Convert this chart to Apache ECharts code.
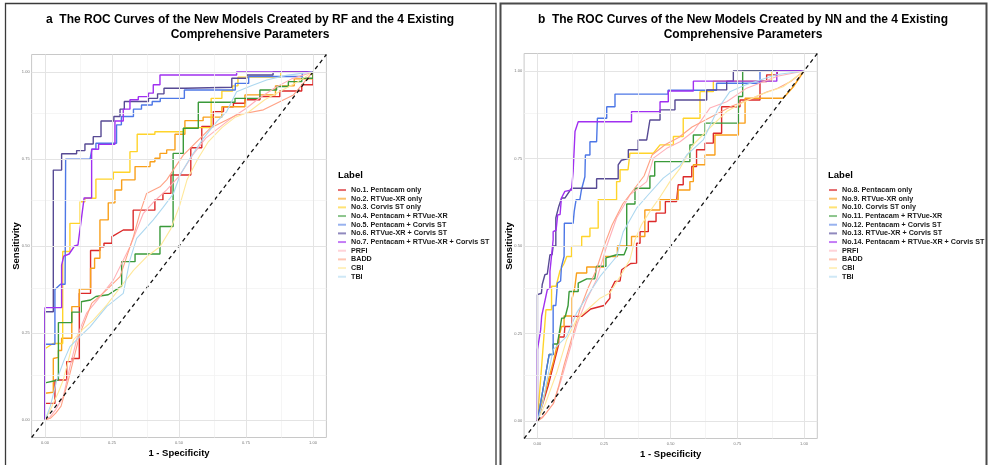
<!DOCTYPE html>
<html><head><meta charset="utf-8">
<script src="https://cdn.jsdelivr.net/npm/echarts@6/dist/echarts.min.js"></script>
<style>html,body{margin:0;padding:0;background:#fff}#c{width:990px;height:465px}</style>
</head><body><div id="c"></div>
<script>
// ---------- text ----------
const titleA = 'a  The ROC Curves of the New Models Created by RF and the 4 Existing\nComprehensive Parameters';
const titleB = 'b  The ROC Curves of the New Models Created by NN and the 4 Existing\nComprehensive Parameters';
const legendA = ['No.1. Pentacam only','No.2. RTVue-XR only','No.3. Corvis ST only','No.4. Pentacam + RTVue-XR','No.5. Pentacam + Corvis ST','No.6. RTVue-XR + Corvis ST','No.7. Pentacam + RTVue-XR + Corvis ST','PRFI','BADD','CBI','TBI'];
const legendB = ['No.8. Pentacam only','No.9. RTVue-XR only','No.10. Corvis ST only','No.11. Pentacam + RTVue-XR','No.12. Pentacam + Corvis ST','No.13. RTVue-XR + Corvis ST','No.14. Pentacam + RTVue-XR + Corvis ST','PRFI','BADD','CBI','TBI'];
const tickValues = [0, 0.25, 0.5, 0.75, 1];
const minorValues = [0.125, 0.375, 0.625, 0.875];
const diagonal = [[-0.05, -0.05], [1.05, 1.05]];

// ---------- panel a : [1 - specificity, sensitivity] ----------
const a_no1 = [[0,0],[0,0.048],[0.037,0.048],[0.037,0.115],[0.081,0.115],[0.081,0.168],[0.1,0.168],[0.1,0.177],[0.128,0.177],[0.128,0.364],[0.17,0.364],[0.17,0.487],[0.205,0.487],[0.205,0.498],[0.22,0.498],[0.22,0.508],[0.25,0.508],[0.25,0.527],[0.292,0.546],[0.329,0.546],[0.329,0.603],[0.41,0.603],[0.41,0.632],[0.44,0.632],[0.44,0.651],[0.47,0.651],[0.47,0.704],[0.544,0.704],[0.544,0.782],[0.585,0.782],[0.585,0.843],[0.628,0.843],[0.628,0.886],[0.666,0.886],[0.666,0.9],[0.703,0.9],[0.703,0.91],[0.746,0.91],[0.746,0.92],[0.802,0.92],[0.802,0.929],[0.876,0.929],[0.876,0.945],[0.958,0.945],[0.958,0.963],[1,0.963],[1,1]];
const a_no2 = [[0,0],[0,0.077],[0.031,0.08],[0.031,0.177],[0.05,0.18],[0.05,0.2],[0.062,0.2],[0.062,0.235],[0.1,0.235],[0.1,0.326],[0.128,0.326],[0.128,0.376],[0.17,0.376],[0.17,0.436],[0.185,0.436],[0.185,0.465],[0.205,0.465],[0.205,0.575],[0.236,0.575],[0.236,0.624],[0.261,0.624],[0.261,0.661],[0.286,0.661],[0.286,0.69],[0.336,0.69],[0.336,0.728],[0.392,0.728],[0.392,0.742],[0.41,0.742],[0.41,0.752],[0.429,0.752],[0.429,0.766],[0.454,0.766],[0.454,0.776],[0.485,0.776],[0.485,0.821],[0.522,0.821],[0.522,0.86],[0.59,0.86],[0.59,0.87],[0.66,0.87],[0.66,0.9],[0.746,0.9],[0.746,0.934],[0.86,0.934],[0.86,0.96],[0.93,0.96],[0.93,0.98],[1,0.98],[1,1]];
const a_no3 = [[0,0],[0,0.205],[0.03,0.22],[0.066,0.22],[0.066,0.484],[0.093,0.484],[0.093,0.565],[0.131,0.565],[0.131,0.627],[0.149,0.627],[0.149,0.637],[0.19,0.637],[0.19,0.692],[0.255,0.692],[0.255,0.712],[0.317,0.712],[0.317,0.771],[0.344,0.771],[0.344,0.821],[0.41,0.821],[0.41,0.828],[0.52,0.828],[0.52,0.84],[0.62,0.84],[0.62,0.924],[0.66,0.924],[0.66,0.945],[0.7,0.945],[0.7,0.96],[0.72,0.96],[0.72,0.985],[0.88,0.985],[0.88,1],[1,1]];
const a_no4 = [[0,0],[0,0.107],[0.05,0.115],[0.05,0.28],[0.1,0.28],[0.1,0.31],[0.135,0.31],[0.135,0.34],[0.17,0.345],[0.19,0.355],[0.236,0.36],[0.286,0.385],[0.286,0.455],[0.336,0.455],[0.336,0.477],[0.429,0.477],[0.429,0.556],[0.478,0.556],[0.478,0.766],[0.516,0.766],[0.516,0.838],[0.572,0.838],[0.572,0.913],[0.709,0.913],[0.709,0.924],[0.802,0.924],[0.802,0.948],[0.864,0.948],[0.864,0.958],[0.908,0.958],[0.908,0.972],[0.958,0.972],[0.958,0.982],[1,0.982],[1,1]];
const a_no5 = [[0,0],[0,0.218],[0.037,0.218],[0.037,0.375],[0.058,0.39],[0.075,0.39],[0.077,0.749],[0.168,0.749],[0.175,0.778],[0.19,0.778],[0.19,0.795],[0.267,0.795],[0.267,0.848],[0.285,0.848],[0.285,0.872],[0.33,0.872],[0.33,0.893],[0.36,0.893],[0.36,0.905],[0.4,0.905],[0.4,0.915],[0.43,0.915],[0.43,0.924],[0.52,0.924],[0.52,0.948],[0.71,0.948],[0.71,0.967],[0.76,0.967],[0.76,0.987],[0.96,0.987],[0.96,1],[1,1]];
const a_no6 = [[0,0],[0,0.311],[0.031,0.311],[0.031,0.718],[0.062,0.718],[0.062,0.765],[0.118,0.765],[0.118,0.774],[0.149,0.774],[0.149,0.793],[0.18,0.793],[0.18,0.814],[0.209,0.814],[0.209,0.859],[0.257,0.859],[0.257,0.872],[0.28,0.872],[0.28,0.893],[0.296,0.893],[0.296,0.915],[0.386,0.915],[0.386,0.924],[0.42,0.924],[0.42,0.937],[0.444,0.937],[0.444,0.953],[0.522,0.953],[0.522,0.956],[0.697,0.956],[0.697,0.982],[0.753,0.982],[0.753,0.991],[0.851,0.991],[0.851,1],[1,1]];
const a_no7 = [[0,0],[0,0.323],[0.062,0.323],[0.062,0.445],[0.07,0.471],[0.09,0.477],[0.11,0.5],[0.123,0.503],[0.146,0.638],[0.174,0.638],[0.174,0.778],[0.2,0.778],[0.2,0.792],[0.261,0.792],[0.261,0.859],[0.292,0.859],[0.292,0.893],[0.317,0.893],[0.317,0.92],[0.348,0.92],[0.348,0.929],[0.386,0.929],[0.386,0.939],[0.404,0.939],[0.404,0.963],[0.429,0.963],[0.429,0.991],[0.715,0.991],[0.715,1],[1,1]];
const a_prfi = [[0,0],[0.02,0.01],[0.04,0.03],[0.068,0.067],[0.093,0.153],[0.124,0.249],[0.155,0.307],[0.205,0.354],[0.255,0.402],[0.317,0.498],[0.367,0.594],[0.41,0.63],[0.454,0.661],[0.5,0.7],[0.55,0.76],[0.6,0.81],[0.65,0.84],[0.7,0.87],[0.75,0.895],[0.8,0.925],[0.86,0.955],[0.92,0.98],[1,1]];
const a_badd = [[0,0],[0.02,0.005],[0.04,0.02],[0.06,0.04],[0.087,0.115],[0.131,0.249],[0.174,0.335],[0.23,0.374],[0.28,0.412],[0.33,0.527],[0.354,0.594],[0.379,0.651],[0.429,0.67],[0.454,0.69],[0.516,0.761],[0.616,0.838],[0.715,0.876],[0.815,0.891],[0.927,0.934],[1,1]];
const a_cbi = [[0,0],[0.02,0.03],[0.05,0.08],[0.068,0.115],[0.09,0.18],[0.106,0.23],[0.14,0.26],[0.18,0.287],[0.23,0.33],[0.28,0.38],[0.33,0.43],[0.379,0.469],[0.429,0.498],[0.47,0.55],[0.504,0.62],[0.53,0.69],[0.57,0.75],[0.61,0.8],[0.66,0.84],[0.71,0.87],[0.76,0.885],[0.82,0.92],[0.88,0.945],[0.94,0.97],[1,1]];
const a_tbi = [[0,0],[0.02,0.04],[0.044,0.115],[0.07,0.17],[0.093,0.211],[0.13,0.24],[0.168,0.268],[0.23,0.326],[0.292,0.364],[0.317,0.46],[0.342,0.522],[0.404,0.575],[0.44,0.61],[0.479,0.65],[0.504,0.704],[0.541,0.752],[0.591,0.809],[0.641,0.857],[0.678,0.886],[0.715,0.943],[0.77,0.96],[0.827,0.977],[0.9,0.99],[1,1]];

// ---------- panel b ----------
const b_no8 = [[0,0],[0.04,0.1],[0.08,0.22],[0.08,0.24],[0.1,0.24],[0.103,0.27],[0.13,0.27],[0.13,0.299],[0.166,0.299],[0.2,0.32],[0.25,0.33],[0.272,0.351],[0.272,0.37],[0.291,0.399],[0.31,0.4],[0.316,0.432],[0.35,0.45],[0.372,0.451],[0.372,0.508],[0.385,0.508],[0.385,0.541],[0.416,0.541],[0.416,0.57],[0.445,0.57],[0.445,0.594],[0.48,0.594],[0.48,0.627],[0.522,0.627],[0.528,0.675],[0.547,0.675],[0.547,0.698],[0.579,0.698],[0.579,0.727],[0.597,0.727],[0.597,0.775],[0.629,0.775],[0.629,0.794],[0.66,0.794],[0.66,0.822],[0.691,0.822],[0.691,0.898],[0.76,0.898],[0.76,0.917],[0.835,0.917],[0.835,0.97],[0.86,0.97],[0.86,0.989],[0.9,0.989],[0.9,1],[1,1]];
const b_no9 = [[0,0],[0.06,0.17],[0.09,0.27],[0.1,0.27],[0.1,0.3],[0.13,0.3],[0.13,0.35],[0.14,0.38],[0.147,0.423],[0.185,0.423],[0.185,0.44],[0.25,0.44],[0.25,0.47],[0.3,0.47],[0.3,0.5],[0.353,0.5],[0.353,0.527],[0.403,0.527],[0.403,0.603],[0.46,0.603],[0.46,0.632],[0.528,0.632],[0.528,0.66],[0.572,0.66],[0.572,0.684],[0.585,0.684],[0.585,0.732],[0.629,0.732],[0.629,0.76],[0.666,0.76],[0.666,0.817],[0.754,0.817],[0.754,0.851],[0.779,0.851],[0.779,0.922],[0.922,0.922],[0.96,0.955],[1,1]];
const b_no10 = [[0,0],[0.032,0.318],[0.053,0.318],[0.053,0.385],[0.07,0.385],[0.085,0.43],[0.1,0.45],[0.11,0.47],[0.128,0.47],[0.128,0.499],[0.166,0.499],[0.166,0.527],[0.197,0.527],[0.197,0.551],[0.228,0.551],[0.228,0.632],[0.297,0.632],[0.297,0.684],[0.31,0.684],[0.31,0.718],[0.34,0.718],[0.347,0.765],[0.435,0.765],[0.46,0.789],[0.51,0.789],[0.51,0.813],[0.547,0.813],[0.547,0.865],[0.61,0.865],[0.61,0.941],[0.66,0.941],[0.66,0.971],[0.88,0.971],[0.88,1],[1,1]];
const b_no11 = [[0,0],[0.044,0.19],[0.059,0.19],[0.059,0.22],[0.075,0.22],[0.091,0.294],[0.1,0.294],[0.105,0.3],[0.115,0.33],[0.119,0.37],[0.153,0.37],[0.153,0.394],[0.185,0.406],[0.215,0.406],[0.222,0.442],[0.257,0.442],[0.257,0.466],[0.297,0.475],[0.325,0.475],[0.335,0.494],[0.335,0.62],[0.366,0.62],[0.366,0.665],[0.422,0.665],[0.422,0.7],[0.44,0.7],[0.44,0.741],[0.572,0.741],[0.572,0.789],[0.585,0.789],[0.585,0.817],[0.629,0.817],[0.629,0.851],[0.754,0.851],[0.754,0.927],[0.77,0.927],[0.77,1],[1,1]];
const b_no12 = [[0,0],[0.044,0.19],[0.059,0.19],[0.059,0.33],[0.069,0.33],[0.075,0.394],[0.087,0.4],[0.09,0.44],[0.1,0.47],[0.101,0.565],[0.134,0.565],[0.138,0.599],[0.145,0.632],[0.159,0.632],[0.165,0.66],[0.178,0.698],[0.18,0.76],[0.197,0.76],[0.197,0.798],[0.222,0.798],[0.225,0.865],[0.26,0.865],[0.26,0.898],[0.291,0.898],[0.291,0.934],[0.49,0.934],[0.49,0.945],[0.672,0.945],[0.672,0.965],[0.835,0.965],[0.835,1],[1,1]];
const b_no13 = [[0,0],[0,0.361],[0.015,0.365],[0.018,0.39],[0.024,0.39],[0.028,0.418],[0.037,0.42],[0.047,0.475],[0.055,0.475],[0.059,0.5],[0.069,0.5],[0.069,0.58],[0.075,0.585],[0.08,0.613],[0.091,0.637],[0.103,0.637],[0.128,0.665],[0.222,0.665],[0.222,0.692],[0.303,0.692],[0.303,0.732],[0.315,0.745],[0.341,0.75],[0.341,0.775],[0.378,0.775],[0.378,0.803],[0.41,0.803],[0.422,0.86],[0.46,0.86],[0.46,0.889],[0.516,0.889],[0.516,0.917],[0.635,0.917],[0.635,0.946],[0.71,0.946],[0.71,0.971],[0.735,0.971],[0.735,1],[1,1]];
const b_no14 = [[0,0],[0,0.204],[0.012,0.26],[0.016,0.261],[0.016,0.3],[0.025,0.332],[0.037,0.375],[0.047,0.38],[0.047,0.427],[0.059,0.518],[0.059,0.541],[0.07,0.545],[0.076,0.589],[0.085,0.59],[0.09,0.637],[0.103,0.656],[0.128,0.66],[0.134,0.713],[0.141,0.827],[0.153,0.855],[0.353,0.855],[0.353,0.884],[0.46,0.884],[0.46,0.912],[0.491,0.912],[0.491,0.943],[0.585,0.943],[0.585,0.971],[0.898,0.971],[0.898,1],[1,1]];
const b_prfi = [[0,0],[0.03,0.02],[0.06,0.05],[0.09,0.12],[0.12,0.2],[0.15,0.28],[0.185,0.347],[0.222,0.404],[0.26,0.5],[0.297,0.58],[0.347,0.646],[0.41,0.684],[0.435,0.751],[0.485,0.779],[0.535,0.798],[0.585,0.827],[0.647,0.894],[0.71,0.912],[0.785,0.951],[0.85,0.97],[0.9,0.985],[1,1]];
const b_badd = [[0,0],[0.02,0.01],[0.04,0.03],[0.06,0.05],[0.08,0.1],[0.1,0.16],[0.13,0.24],[0.16,0.32],[0.19,0.38],[0.22,0.43],[0.25,0.5],[0.28,0.56],[0.32,0.62],[0.36,0.66],[0.4,0.7],[0.43,0.76],[0.48,0.79],[0.53,0.81],[0.58,0.84],[0.63,0.86],[0.68,0.88],[0.73,0.9],[0.8,0.92],[0.86,0.94],[0.9,0.95],[0.95,0.97],[1,1]];
const b_cbi = [[0,0],[0.03,0.05],[0.072,0.137],[0.11,0.233],[0.147,0.29],[0.19,0.32],[0.235,0.351],[0.272,0.366],[0.31,0.413],[0.347,0.461],[0.366,0.518],[0.39,0.56],[0.422,0.599],[0.46,0.64],[0.497,0.684],[0.535,0.722],[0.585,0.79],[0.65,0.84],[0.71,0.884],[0.77,0.91],[0.835,0.932],[0.922,0.955],[1,1]];
const b_tbi = [[0,0],[0.02,0.05],[0.034,0.109],[0.059,0.204],[0.11,0.242],[0.147,0.309],[0.19,0.36],[0.235,0.413],[0.297,0.47],[0.322,0.541],[0.372,0.608],[0.42,0.65],[0.472,0.694],[0.535,0.73],[0.56,0.76],[0.622,0.803],[0.679,0.894],[0.722,0.941],[0.78,0.96],[0.835,0.974],[0.9,0.99],[1,1]];

// ---------- style ----------
const lineColors = ['#DC2A2A','#F9A01B','#FFD42A','#3A9A3A','#4D77E6','#574A94','#A030F0','#FFB0B8','#FFA285','#FFE89A','#ADD8F0'];
const keyColors = ['#E66E70','#FBC36E','#FFE274','#8CC58C','#98B2EF','#9089BE','#C47CF6','#FFD3D8','#FFC6B3','#FFF1BE','#CFE8F6'];
const lineWidths = [1.4,1.4,1.4,1.4,1.4,1.4,1.4,1.1,1.1,1.1,1.1];
const FONT = 'Liberation Sans, Arial, sans-serif';

const curvesA = [a_no1,a_no2,a_no3,a_no4,a_no5,a_no6,a_no7,a_prfi,a_badd,a_cbi,a_tbi];
const curvesB = [b_no8,b_no9,b_no10,b_no11,b_no12,b_no13,b_no14,b_prfi,b_badd,b_cbi,b_tbi];

function gridSeries(p) {
  const minor = {color: '#F2F2F2', width: 0.8, type: 'solid'};
  const major = {color: '#E4E4E4', width: 1, type: 'solid'};
  const ml = [];
  minorValues.forEach(v => { ml.push({xAxis: v, lineStyle: minor}); ml.push({yAxis: v, lineStyle: minor}); });
  tickValues.forEach(v => { ml.push({xAxis: v, lineStyle: major}); ml.push({yAxis: v, lineStyle: major}); });
  return {type: 'line', xAxisIndex: p, yAxisIndex: p, data: [[0,0]], symbol: 'none', lineStyle: {width: 0}, z: 1, silent: true,
    markLine: {silent: true, symbol: ['none','none'], label: {show: false}, animation: false, lineStyle: {type: 'solid'}, data: ml}};
}
function curveSeries(p, names, curves) {
  return curves.map((c, i) => ({
    type: 'line', name: names[i], xAxisIndex: p, yAxisIndex: p, data: c, symbol: 'none', showSymbol: false,
    color: lineColors[i], lineStyle: {color: lineColors[i], width: lineWidths[i]}, z: 3, silent: true, animation: false
  }));
}
function diagSeries(p) {
  return {type: 'line', xAxisIndex: p, yAxisIndex: p, data: diagonal, symbol: 'none', z: 4, silent: true,
    lineStyle: {color: '#111', width: 1.3, type: [4, 3.5]}};
}
function xAxisCfg(p) {
  return {gridIndex: p, type: 'value', min: -0.05, max: 1.05, name: '1 - Specificity', nameLocation: 'middle', nameGap: 10.5, nameMoveOverlap: false,
    nameTextStyle: {fontFamily: FONT, fontWeight: 'bold', fontSize: 9.5, color: '#000'},
    axisLine: {show: false}, axisTick: {show: false}, splitLine: {show: false},
    axisLabel: {customValues: tickValues, formatter: v => v.toFixed(2), fontSize: 4, color: '#777', margin: 3, fontFamily: FONT}};
}
function yAxisCfg(p) {
  return {gridIndex: p, type: 'value', min: -0.05, max: 1.05, name: 'Sensitivity', nameLocation: 'middle', nameGap: 10, nameRotate: 90, nameMoveOverlap: false,
    nameTextStyle: {fontFamily: FONT, fontWeight: 'bold', fontSize: 9.5, color: '#000'},
    axisLine: {show: false}, axisTick: {show: false}, splitLine: {show: false},
    axisLabel: {customValues: tickValues, formatter: v => v.toFixed(2), fontSize: 4, color: '#777', margin: 2, fontFamily: FONT}};
}
function legendCfg(left, names) {
  return {left: left, top: 185.7, orient: 'vertical', icon: 'rect', itemWidth: 8, itemHeight: 2, itemGap: 0, padding: 0,
    selectedMode: false, data: names.map((n, i) => ({name: n, itemStyle: {color: keyColors[i]}})),
    textStyle: {fontFamily: FONT, fontSize: 7.2, fontWeight: 'bold', color: '#1a1a1a', lineHeight: 8.67}};
}

const chart = echarts.init(document.getElementById('c'), null, {renderer: 'canvas'});
chart.setOption({
  animation: false,
  backgroundColor: '#fff',
  title: [
    {text: titleA, left: 250, top: 12.5, textAlign: 'center', padding: 0, textStyle: {fontFamily: FONT, fontSize: 12, fontWeight: 'bold', lineHeight: 15, color: '#000'}},
    {text: titleB, left: 743, top: 12.5, textAlign: 'center', padding: 0, textStyle: {fontFamily: FONT, fontSize: 12, fontWeight: 'bold', lineHeight: 15, color: '#000'}},
    {text: 'Label', left: 338, top: 170.5, padding: 0, textStyle: {fontFamily: FONT, fontSize: 9.5, fontWeight: 'bold', color: '#000'}},
    {text: 'Label', left: 828, top: 170.5, padding: 0, textStyle: {fontFamily: FONT, fontSize: 9.5, fontWeight: 'bold', color: '#000'}}
  ],
  legend: [legendCfg(338, legendA), legendCfg(829, legendB)],
  grid: [
    {left: 31.6, top: 54.5, width: 294.8, height: 383, show: true, borderColor: '#C8C8C8', borderWidth: 1, backgroundColor: '#fff'},
    {left: 524.1, top: 53.5, width: 293.2, height: 385, show: true, borderColor: '#C8C8C8', borderWidth: 1, backgroundColor: '#fff'}
  ],
  xAxis: [xAxisCfg(0), xAxisCfg(1)],
  yAxis: [yAxisCfg(0), yAxisCfg(1)],
  series: [gridSeries(0), gridSeries(1)]
    .concat(curveSeries(0, legendA, curvesA))
    .concat(curveSeries(1, legendB, curvesB))
    .concat([diagSeries(0), diagSeries(1)]),
  graphic: [
    {type: 'rect', shape: {x: 5.5, y: 3.5, width: 490.5, height: 470}, style: {fill: 'none', stroke: '#3a3a3a', lineWidth: 1.3}, silent: true, z: 100},
    {type: 'rect', shape: {x: 500.5, y: 3.5, width: 486, height: 470}, style: {fill: 'none', stroke: '#4a4a4a', lineWidth: 2}, silent: true, z: 100}
  ]
});
</script>
</body></html>
